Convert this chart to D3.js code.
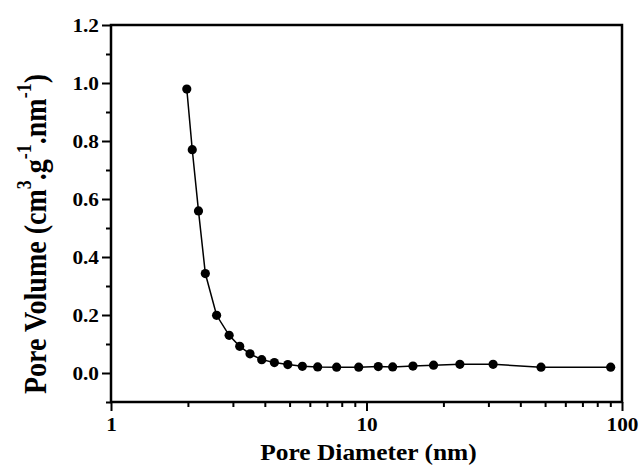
<!DOCTYPE html>
<html><head><meta charset="utf-8">
<script src="https://cdn.jsdelivr.net/npm/d3@7"></script>
<style>body{margin:0;background:#fff}svg{display:block}text{font-family:"Liberation Serif","Times New Roman",serif;font-weight:bold;fill:#000}</style>
</head><body>
<script>
const diameters = [1.98,2.08,2.20,2.34,2.59,2.90,3.19,3.50,3.89,4.36,4.92,5.61,6.44,7.64,9.32,11.12,12.66,15.2,18.3,23.2,31.3,48.2,90.3];
const volumes   = [0.979,0.770,0.559,0.343,0.199,0.130,0.092,0.066,0.046,0.036,0.029,0.023,0.021,0.020,0.020,0.022,0.021,0.024,0.027,0.030,0.030,0.020,0.020];
const xMajorTicks = [1,10,100];
const xMinorTicks = [2,3,4,5,6,7,8,9,20,30,40,50,60,70,80,90];
const yMajorTicks = [0.0,0.2,0.4,0.6,0.8,1.0,1.2];
const yMinorTicks = [-0.1,0.1,0.3,0.5,0.7,0.9,1.1];

const W=639,H=465, L=111, R=622, T=25, B=402, SX=1.12;
const svg=d3.select("body").append("svg").attr("width",W).attr("height",H);
const x=d3.scaleLog().domain([1,100]).range([L,R]);
const y=d3.scaleLinear().domain([-0.1,1.2]).range([B,T]);

// x axis
const gx=svg.append("g").attr("transform",`translate(0,${B})`);
gx.call(d3.axisBottom(x).tickValues(xMajorTicks).tickSize(9).tickPadding(7).tickFormat(d3.format("d")));
gx.append("g").call(d3.axisBottom(x).tickValues(xMinorTicks).tickSize(5).tickFormat(""));
// y axis
const gy=svg.append("g").attr("transform",`translate(${L},0)`);
gy.call(d3.axisLeft(y).tickValues(yMajorTicks).tickSize(9).tickPadding(3).tickFormat(d3.format(".1f")));
gy.append("g").call(d3.axisLeft(y).tickValues(yMinorTicks).tickSize(5).tickFormat(""));
svg.selectAll(".domain").remove();
svg.selectAll(".tick line").attr("stroke","#000").attr("stroke-width",2);
svg.selectAll(".tick text").style("font-size","19px").style("font-family",'"Liberation Serif",serif').style("font-weight","bold")
  .each(function(){ const w=this.getComputedTextLength(); d3.select(this).attr("textLength",w*SX).attr("lengthAdjust","spacingAndGlyphs"); });

// frame
svg.append("rect").attr("x",L).attr("y",T).attr("width",R-L).attr("height",B-T)
  .attr("fill","none").attr("stroke","#000").attr("stroke-width",2.5);

const data=diameters.map((d,i)=>({d,v:volumes[i]}));
svg.append("path").datum(data).attr("fill","none").attr("stroke","#000").attr("stroke-width",1.5)
  .attr("d",d3.line().x(p=>x(p.d)).y(p=>y(p.v)));
svg.selectAll("circle.pt").data(data).enter().append("circle").attr("class","pt")
  .attr("cx",p=>x(p.d)).attr("cy",p=>y(p.v)).attr("r",4.6).attr("fill","#000");

// x title
svg.append("text").attr("transform",`translate(${(L+R)/2+2},460) scale(${SX},1)`).attr("text-anchor","middle")
  .style("font-size","22.7px").text("Pore Diameter (nm)");
// y title
const yt=svg.append("text").attr("transform",`translate(46,234) scale(${SX},1) rotate(-90)`).attr("text-anchor","middle")
  .style("font-size","28px");
yt.append("tspan").text("Pore Volume (cm");
yt.append("tspan").attr("dy",-13).style("font-size","18px").text("3");
yt.append("tspan").attr("dy",13).text(".g");
yt.append("tspan").attr("dy",-13).style("font-size","18px").text("-1");
yt.append("tspan").attr("dy",13).text(".nm");
yt.append("tspan").attr("dy",-13).style("font-size","18px").text("-1");
yt.append("tspan").attr("dy",13).text(")");
</script>
</body></html>
